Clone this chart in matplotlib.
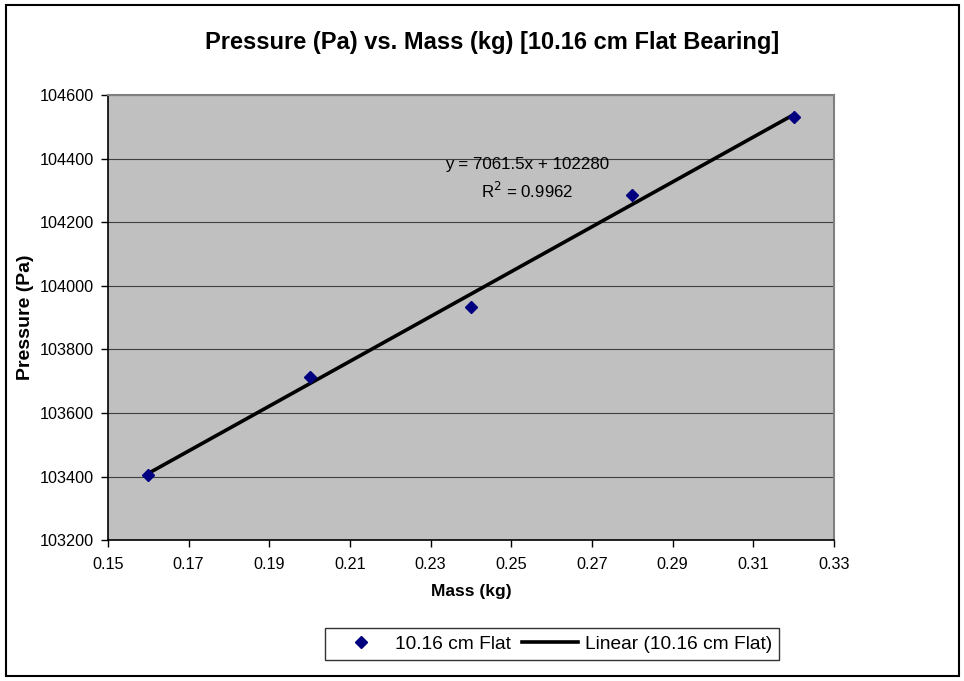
import numpy as np
import matplotlib
matplotlib.use('Agg')
from matplotlib import pyplot as plt
from matplotlib import patches as pat

# data
mass = [0.16, 0.20, 0.24, 0.28, 0.32]
pressure = [103406, 103714, 103935, 104285, 104532]
x_ticks = [0.15, 0.17, 0.19, 0.21, 0.23, 0.25, 0.27, 0.29, 0.31, 0.33]
y_ticks = [103200, 103400, 103600, 103800, 104000, 104200, 104400, 104600]

plt.rcParams['font.family'] = ['Liberation Sans', 'DejaVu Sans']

fig = plt.figure(figsize=(9.64, 6.81), dpi=100)
ax = fig.add_axes([0.112, 0.207, 0.753, 0.653])
ax.set_facecolor('#c0c0c0')

# linear trendline
slope, icpt = np.polyfit(mass, pressure, 1)
xs = np.array([mass[0], mass[-1]])
ax.plot(xs, slope * xs + icpt, color='black', lw=2.6, zorder=3,
        label='Linear (10.16 cm Flat)')
ax.plot(mass, pressure, linestyle='none', marker='D', ms=6.5, color='#000080',
        zorder=4, label='10.16 cm Flat')

ax.set_xlim(0.15, 0.33)
ax.set_ylim(103200, 104600)
ax.set_xticks(x_ticks)
ax.set_xticklabels(['%.2f' % t for t in x_ticks])
ax.set_yticks(y_ticks)
ax.yaxis.grid(True, color='#404040', lw=0.8)
ax.set_axisbelow(True)
ax.tick_params(labelsize=11.7, direction='out', length=5, width=1, color='black')
ax.tick_params(axis='x', pad=7)
ax.tick_params(axis='y', pad=5)

for s in ['top', 'right']:
    ax.spines[s].set_color('#808080')
    ax.spines[s].set_linewidth(1.5)
for s in ['left', 'bottom']:
    ax.spines[s].set_color('black')
    ax.spines[s].set_linewidth(1.2)

ax.set_xlabel('Mass (kg)', fontsize=12.5, fontweight='bold', labelpad=9)
ax.set_ylabel('Pressure (Pa)', fontsize=14, fontweight='bold', labelpad=4)
fig.text(0.51, 0.938, 'Pressure (Pa) vs. Mass (kg) [10.16 cm Flat Bearing]',
         ha='center', va='center', fontsize=17, fontweight='bold')

ax.text(0.578, 0.845, 'y = 7061.5x + 102280', transform=ax.transAxes,
        ha='center', va='center', fontsize=12.2)
ax.text(0.578, 0.785, 'R$^2$ = 0.9962', transform=ax.transAxes,
        ha='center', va='center', fontsize=12.2)

h, l = ax.get_legend_handles_labels()
leg = fig.legend(h[::-1], l[::-1], loc='center', bbox_to_anchor=(0.573, 0.054),
                 ncol=2, fontsize=13.8, frameon=True, fancybox=False,
                 edgecolor='black', handlelength=2.9, handletextpad=0.35,
                 columnspacing=0.6, borderpad=0.38, borderaxespad=0.3)
leg.get_frame().set_linewidth(1.0)

# outer chart border
fig.patches.append(pat.Rectangle((0.006, 0.007), 0.989, 0.986,
                                 transform=fig.transFigure, fill=False,
                                 ec='black', lw=1.5))

fig.savefig('out.png', dpi=100)
